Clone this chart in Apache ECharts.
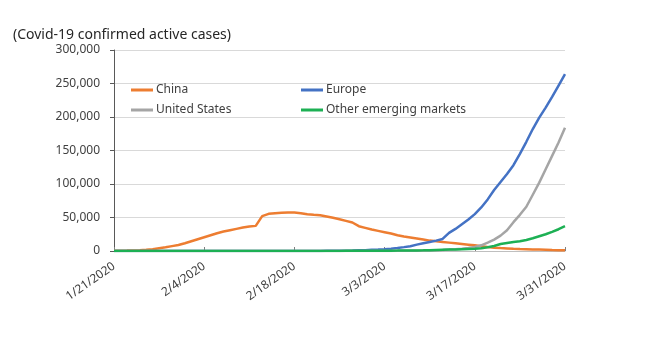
<!DOCTYPE html>
<html>
<head>
<meta charset="utf-8">
<script src="https://cdn.jsdelivr.net/npm/echarts@6/dist/echarts.min.js"></script>
<style>
  html, body { margin: 0; padding: 0; background: #fff; }
  #chart { width: 650px; height: 351px; }
</style>
</head>
<body>
<div id="chart"></div>
<script>
const dates = [
  '1/21/2020', '1/22/2020', '1/23/2020', '1/24/2020', '1/25/2020', '1/26/2020', '1/27/2020', '1/28/2020', '1/29/2020', '1/30/2020', '1/31/2020',
  '2/1/2020', '2/2/2020', '2/3/2020', '2/4/2020', '2/5/2020', '2/6/2020', '2/7/2020', '2/8/2020', '2/9/2020', '2/10/2020',
  '2/11/2020', '2/12/2020', '2/13/2020', '2/14/2020', '2/15/2020', '2/16/2020', '2/17/2020', '2/18/2020', '2/19/2020', '2/20/2020',
  '2/21/2020', '2/22/2020', '2/23/2020', '2/24/2020', '2/25/2020', '2/26/2020', '2/27/2020', '2/28/2020', '2/29/2020',
  '3/1/2020', '3/2/2020', '3/3/2020', '3/4/2020', '3/5/2020', '3/6/2020', '3/7/2020', '3/8/2020', '3/9/2020', '3/10/2020',
  '3/11/2020', '3/12/2020', '3/13/2020', '3/14/2020', '3/15/2020', '3/16/2020', '3/17/2020', '3/18/2020', '3/19/2020', '3/20/2020',
  '3/21/2020', '3/22/2020', '3/23/2020', '3/24/2020', '3/25/2020', '3/26/2020', '3/27/2020', '3/28/2020', '3/29/2020', '3/30/2020', '3/31/2020'
];

// active cases, one value per day
const china = [
  300, 500, 600, 850, 1300, 1900, 2600, 4200, 5500, 7300, 9000,
  11500, 14500, 17500, 20500, 23500, 26500, 29000, 31000, 33000, 35000,
  36500, 37500, 52000, 55500, 56500, 57000, 57500, 57500, 56500, 55000,
  54000, 53500, 51500, 49500, 47500, 45000, 42500, 37000, 34500,
  32000, 30000, 28000, 26000, 23500, 21500, 20000, 18500, 17000, 15500,
  14500, 13500, 12500, 11500, 10500, 9500, 8500, 7200, 6000, 5000,
  4400, 3900, 3400, 3000, 2700, 2400, 2100, 1800, 1500, 1300, 1100
];
const europe = [
  0, 0, 0, 2, 3, 3, 5, 8, 10, 12, 15,
  20, 25, 30, 30, 30, 35, 40, 40, 40, 40,
  40, 40, 45, 45, 45, 45, 45, 45, 45, 45,
  50, 100, 200, 250, 350, 500, 700, 1000, 1300,
  1800, 2200, 2700, 3500, 4500, 5800, 7200, 9500, 11500, 13500,
  15500, 18000, 27000, 33000, 40000, 47000, 55000, 65000, 77000, 91000,
  103000, 115000, 128000, 145000, 163000, 182000, 199000, 214000, 230000, 247000, 264000
];
const unitedStates = [
  1, 1, 1, 2, 2, 5, 5, 5, 5, 6, 7,
  8, 11, 11, 11, 12, 12, 12, 12, 12, 12,
  13, 13, 14, 14, 14, 14, 14, 14, 14, 14,
  14, 14, 14, 14, 14, 15, 15, 20, 25,
  40, 70, 100, 130, 200, 250, 380, 480, 560, 900,
  1200, 1600, 2100, 2700, 3400, 4500, 6000, 8500, 12500, 17000,
  23000, 31000, 43000, 54000, 66000, 84000, 102000, 122000, 142000, 162000, 184000
];
const otherEM = [
  0, 0, 0, 0, 0, 0, 0, 2, 5, 8, 10,
  15, 20, 25, 25, 30, 30, 30, 30, 30, 30,
  30, 30, 30, 30, 30, 30, 30, 35, 40, 50,
  60, 70, 90, 120, 150, 200, 250, 300, 350,
  400, 450, 500, 550, 600, 700, 800, 900, 1000, 1200,
  1500, 1800, 2100, 2400, 2700, 3000, 3300, 4000, 5500, 7500,
  10500, 12000, 13500, 14500, 16500, 19000, 22000, 25000, 28500, 32500, 37000
];
const yTicks = [0, 50000, 100000, 150000, 200000, 250000, 300000];

const font = 'Noto Sans';
const legendBase = {
  orient: 'horizontal',
  padding: 0,
  itemWidth: 22,
  itemHeight: 3,
  itemGap: 0,
  icon: 'rect',
  selectedMode: false,
  textStyle: { fontFamily: font, fontSize: 12, color: '#404040', padding: [0, 0, 0, -2] }
};

const makeLine = (name, data, color) => ({
  name,
  type: 'line',
  data,
  showSymbol: false,
  symbol: 'none',
  lineStyle: { color, width: 2.5 },
  itemStyle: { color },
  emphasis: { disabled: true }
});

const option = {
  animation: false,
  title: {
    text: '(Covid-19 confirmed active cases)',
    left: 13,
    top: 28,
    padding: 0,
    textStyle: { fontFamily: font, fontSize: 14, fontWeight: 'normal', color: '#262626' }
  },
  legend: [
    Object.assign({}, legendBase, { data: ['China'], left: 131, top: 84 }),
    Object.assign({}, legendBase, { data: ['Europe'], left: 301, top: 84 }),
    Object.assign({}, legendBase, { data: ['United States'], left: 131, top: 104 }),
    Object.assign({}, legendBase, { data: ['Other emerging markets'], left: 301, top: 104 })
  ],
  grid: { left: 114, right: 85, top: 50, bottom: 100, containLabel: false },
  xAxis: {
    type: 'category',
    data: dates,
    boundaryGap: false,
    axisLine: { lineStyle: { color: '#BFBFBF', width: 1 } },
    axisTick: { inside: true, interval: 13, length: 4, lineStyle: { color: '#808080' } },
    axisLabel: {
      interval: 13,
      rotate: 35,
      margin: 14,
      fontFamily: font,
      fontSize: 12,
      color: '#404040'
    },
    splitLine: { show: false }
  },
  yAxis: {
    type: 'value',
    min: yTicks[0],
    max: yTicks[yTicks.length - 1],
    interval: 50000,
    axisLine: { show: true, lineStyle: { color: '#595959', width: 1 } },
    axisTick: { show: true, length: 4, lineStyle: { color: '#595959' } },
    axisLabel: {
      margin: 14,
      fontFamily: font,
      fontSize: 12,
      color: '#404040',
      formatter: (v) => v.toLocaleString('en-US')
    },
    splitLine: { lineStyle: { color: '#D9D9D9', width: 1 } }
  },
  series: [
    makeLine('China', china, '#ED7D31'),
    makeLine('Europe', europe, '#4472C4'),
    makeLine('United States', unitedStates, '#A5A5A5'),
    makeLine('Other emerging markets', otherEM, '#1DB054')
  ]
};

const myChart = echarts.init(document.getElementById('chart'));
myChart.setOption(option);
</script>
</body>
</html>
